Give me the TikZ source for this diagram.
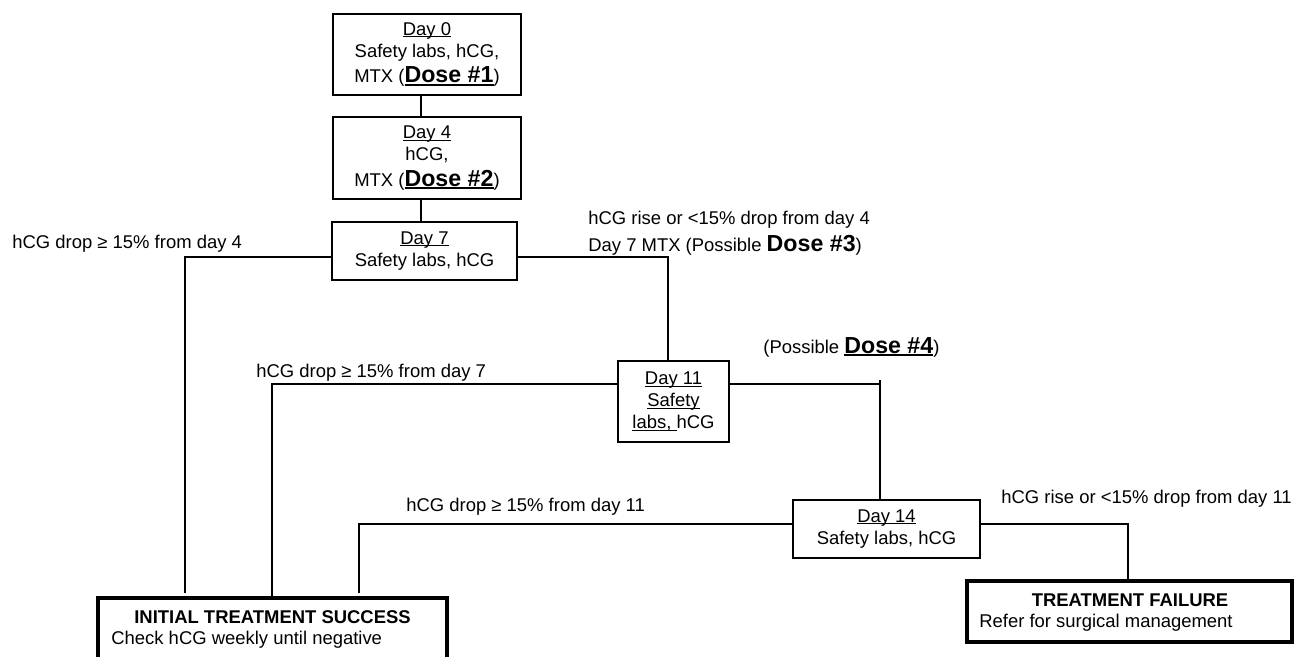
\documentclass[tikz,border=0pt]{standalone}
\usepackage{fontspec}
\setmainfont{Liberation Sans}
\newsavebox\ulbox
% thin underline for day headings
\newcommand{\ulthin}[1]{\leavevmode\sbox\ulbox{#1}\rlap{\rule[-1.1pt]{\wd\ulbox}{0.55pt}}\usebox\ulbox}
% larger bold dose marker, plain and underlined
\newcommand{\dose}[1]{{\fontsize{13.2}{15}\selectfont\bfseries #1}}
\newcommand{\uldose}[1]{\leavevmode\sbox\ulbox{\dose{#1}}\rlap{\rule[-1.8pt]{\wd\ulbox}{1.1pt}}\usebox\ulbox}
\begin{document}
\begin{tikzpicture}[x=0.02cm,y=-0.02cm,
  every node/.style={font=\fontsize{10.5}{12.5}\selectfont},
  stepbox/.style={draw, line width=1.1pt, inner sep=0pt, align=center},
  endbox/.style={draw, line width=2.3pt, inner sep=0pt},
  headtext/.style={anchor=base, inner sep=0pt, font=\fontsize{10.5}{12.5}\selectfont\bfseries},
  note/.style={anchor=base west, inner sep=0pt},
  link/.style={line width=1.1pt}]
\clip (0,0) rectangle (1300,656);

% treatment steps
\node[stepbox, minimum width=3.76cm, minimum height=1.62cm] (d0) at (427,54.5)
  {\ulthin{Day 0}\\ Safety labs, hCG,\\[2pt] MTX (\uldose{Dose \#1})};
\node[stepbox, minimum width=3.76cm, minimum height=1.64cm] (d4) at (427,158)
  {\ulthin{Day 4}\\ hCG,\\[2pt] MTX (\uldose{Dose \#2})};
\node[stepbox, minimum width=3.70cm, minimum height=1.16cm] (d7) at (424.5,251)
  {\ulthin{Day 7}\\ Safety labs, hCG};
\node[stepbox, minimum width=2.22cm, minimum height=1.62cm] (d11) at (673.5,401.5)
  {\ulthin{Day 11}\\ \ulthin{Safety}\\ \ulthin{labs, }hCG};
\node[stepbox, minimum width=3.74cm, minimum height=1.16cm] (d14) at (886.5,529)
  {\ulthin{Day 14}\\ Safety labs, hCG};

% outcomes
\node[endbox, minimum width=6.98cm, minimum height=1.64cm] (ok) at (272.5,639) {};
\node[headtext] (okhead) at (272.5,623) {INITIAL TREATMENT SUCCESS};
\node[note] (oknote) at (111,644) {Check hCG weekly until negative};
\node[endbox, minimum width=6.50cm, minimum height=1.22cm] (fail) at (1129.5,611.5) {};
\node[headtext] (failhead) at (1130,606) {TREATMENT FAILURE};
\node[note] (failnote) at (979,627) {Refer for surgical management};

% branch labels
\node[note] (n4drop) at (12,248) {hCG drop ≥ 15\% from day 4};
\node[note] (n4rise) at (588,224) {hCG rise or <15\% drop from day 4};
\node[note] (n7mtx) at (588,251) {Day 7 MTX (Possible \dose{Dose \#3})};
\node[note] (n11dose) at (763,353) {(Possible \uldose{Dose \#4})};
\node[note] (n7drop) at (256,377) {hCG drop ≥ 15\% from day 7};
\node[note] (n11drop) at (406,511) {hCG drop ≥ 15\% from day 11};
\node[note] (n11rise) at (1001,503) {hCG rise or <15\% drop from day 11};

% routing points
\coordinate (xa) at (421,0);
\coordinate (r7) at (0,257);
\coordinate (r11) at (0,384);
\coordinate (r14) at (0,524);
\coordinate (s1) at (185,593);
\coordinate (s2) at (272,0);
\coordinate (s3) at (359,593);
\coordinate (k7) at (668,0);
\coordinate (k11) at (880,384);
\coordinate (k11top) at (880,380);
\coordinate (k14) at (1128,0);

% connectors
\draw[link] (d0.south -| xa) -- (d4.north -| xa);
\draw[link] (d4.south -| xa) -- (d7.north -| xa);
\draw[link] (d7.west |- r7) -| (s1);
\draw[link] (d7.east |- r7) -| (d11.north -| k7);
\draw[link] (d11.west |- r11) -| (ok.north -| s2);
\draw[link] (d11.east |- r11) -- (k11);
\draw[link] (k11top) -- (d14.north -| k11top);
\draw[link] (d14.west |- r14) -| (s3);
\draw[link] (d14.east |- r14) -| (fail.north -| k14);
\end{tikzpicture}
\end{document}
